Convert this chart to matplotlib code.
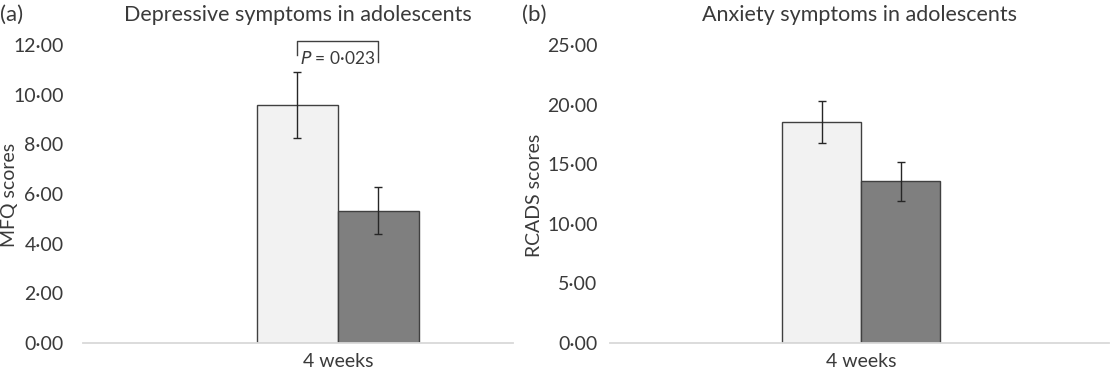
import matplotlib
matplotlib.use("Agg")
import matplotlib.pyplot as plt
from matplotlib.ticker import FuncFormatter

# values
groups = ["group 1", "group 2"]
category = "4 weeks"
mfq_means = [9.60, 5.32]
mfq_errs = [1.33, 0.95]
rcads_means = [18.57, 13.57]
rcads_errs = [1.76, 1.64]
bar_colors = ["#f2f2f2", "#7f7f7f"]

plt.rcParams['font.family'] = ['Lato', 'DejaVu Sans']
text_color = "#3a3a3a"

W, H = 1116, 373
fig = plt.figure(figsize=(W / 100, H / 100), dpi=100)


def px_axes(left, right, top, bottom):
    return fig.add_axes([left / W, 1 - bottom / H, (right - left) / W, (bottom - top) / H])


def dot_fmt(v, pos):
    return "{:.2f}".format(v).replace(".", "\u00b7")


def panel(ax, means, errs, ymax, ystep, xlim, title, tickpad):
    offsets = [-0.25, 0.25]
    for off, m, e, c in zip(offsets, means, errs, bar_colors):
        ax.bar(off, m, width=0.5, color=c, edgecolor="#404040", linewidth=1.0, zorder=2)
        ax.errorbar(off, m, yerr=e, fmt="none", ecolor="#262626", elinewidth=1.0,
                    capsize=3, capthick=1.0, zorder=3)
    ax.set_xlim(*xlim)
    ax.set_ylim(0, ymax)
    ax.set_yticks([i * ystep for i in range(int(ymax / ystep) + 1)])
    ax.yaxis.set_major_formatter(FuncFormatter(dot_fmt))
    ax.set_xticks([0])
    ax.set_xticklabels([category])
    for s in ["top", "right", "left"]:
        ax.spines[s].set_visible(False)
    ax.spines["bottom"].set_color("#d9d9d9")
    ax.spines["bottom"].set_linewidth(1.3)
    ax.tick_params(axis="both", length=0, labelsize=14, colors=text_color)
    ax.tick_params(axis="y", pad=tickpad)
    ax.tick_params(axis="x", pad=7)
    ax.set_title(title, fontsize=15.5, color=text_color, pad=17)
    return ax


ax1 = px_axes(83, 513, 45, 343)
panel(ax1, mfq_means, mfq_errs, 12, 2, (-1.57, 1.08),
      "Depressive symptoms in adolescents", 14)
ax2 = px_axes(610, 1109, 45, 343)
panel(ax2, rcads_means, rcads_errs, 25, 5, (-1.59, 1.57),
      "Anxiety symptoms in adolescents", 9)

# significance bracket
ax1.plot([-0.25, -0.25, 0.25, 0.25], [11.6, 12.15, 12.15, 11.3],
         color="#404040", linewidth=1.0, clip_on=False)
ax1.text(0.0, 11.45, "$P$ = 0\u00b7023", ha="center", va="center",
         fontsize=12.5, color=text_color)

fig.text(10 / W, 1 - 195 / H, "MFQ scores", rotation=90, ha="center", va="center",
         fontsize=14, color=text_color)
fig.text(535 / W, 1 - 195 / H, "RCADS scores", rotation=90, ha="center", va="center",
         fontsize=14, color=text_color)
fig.text(0 / W, 1 - 15 / H, "(a)", ha="left", va="center", fontsize=16, color=text_color)
fig.text(522 / W, 1 - 15 / H, "(b)", ha="left", va="center", fontsize=16, color=text_color)

fig.savefig("out.png", dpi=100, facecolor="white")
